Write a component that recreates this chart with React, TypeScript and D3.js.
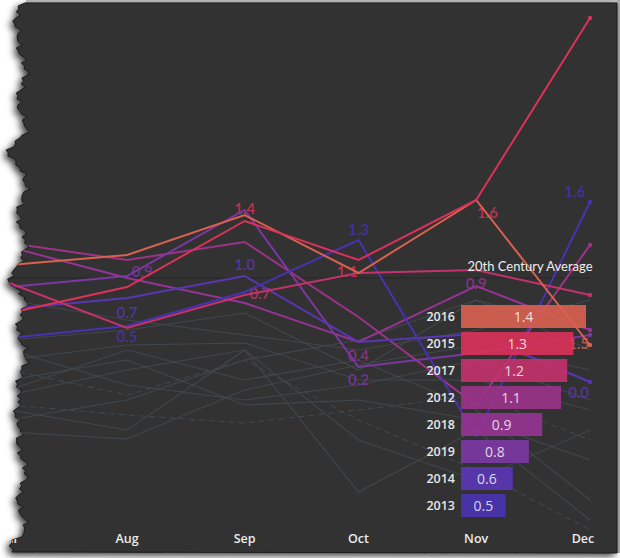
import React from 'react';
import * as d3 from 'd3';

// months shown on the x axis (Jul..Dec)
const months = ['Jul', 'Aug', 'Sep', 'Oct', 'Nov', 'Dec'];
const monthDates = months.map((m, i) => new Date(2000, 6 + i, 1));

// legend: yearly averages
const years = [2016, 2015, 2017, 2012, 2018, 2019, 2014, 2013];
const yearAverages = [1.40, 1.26, 1.19, 1.12, 0.91, 0.76, 0.58, 0.50];
const yearColors = ['#d9614f', '#dc3158', '#c4326b', '#9c3389', '#953494', '#7c37a4', '#5a36b5', '#4932b2'];

// monthly values, Jul..Dec, highlighted years
const values2016 = [0.13, 0.23, 0.63, 0.05, 0.78, -0.67];
const values2015 = [-0.35, -0.09, 0.57, 0.18, 0.78, 2.6];
const values2017 = [-0.05, -0.50, -0.17, 0.05, 0.08, -0.17];
const values2012 = [0.35, 0.18, 0.36, -0.39, -1.27, 0.33];
const values2018 = [0.31, 0.0, -0.25, -0.64, -0.08, -0.52];
const values2019 = [-0.09, 0.02, 0.68, -0.89, -0.75, -0.57];
const values2014 = [-0.31, -0.20, 0.02, -0.64, -0.56, -1.04];
const values2013 = [-0.60, -0.48, -0.14, 0.38, -1.58, 0.76];

// older years in the background
const pastYears = [
  [-0.62, -0.52, -0.35, -0.92, -0.22, -0.52],
  [-0.82, -0.67, -0.65, -1.02, -1.02, -1.32],
  [-1.27, -1.37, -1.45, -1.32, -1.17, -1.62],
  [-1.54, -1.61, -1.12, -0.87, -0.67, -0.92],
  [-1.02, -0.82, -1.27, -1.22, -1.42, -1.82],
  [-1.17, -0.92, -0.72, -2.14, -1.52, -2.42],
  [-0.72, -1.07, -1.22, -1.07, -0.82, -1.22],
  [-1.42, -1.22, -0.82, -0.62, -0.22, -0.72],
  [-0.92, -1.17, -0.82, -1.42, -1.92, -2.52],
  [-1.12, -0.72, -1.02, -0.82, -1.32, -2.22],
  [-0.22, -0.42, -0.57, -0.72, -0.52, -0.22],
  [-1.32, -1.52, -0.72, -1.62, -2.02, -1.52],
];
const dashedPast = [2, 8];

// value labels floating on the lines: month index, day shift, level, text, year
const lineLabels = [
  { m: 2, d: 0, v: 0.70, text: '1.4', year: 2015 },
  { m: 1, d: 4, v: 0.07, text: '0.9', year: 2019 },
  { m: 1, d: 0, v: -0.34, text: '0.7', year: 2014 },
  { m: 1, d: 0, v: -0.58, text: '0.5', year: 2013 },
  { m: 2, d: 0, v: 0.14, text: '1.0', year: 2014 },
  { m: 2, d: 4, v: -0.15, text: '0.7', year: 2017 },
  { m: 3, d: 0, v: 0.49, text: '1.3', year: 2013 },
  { m: 3, d: -2.5, v: 0.07, text: '1.1', year: 2015 },
  { m: 3, d: 0, v: -0.77, text: '0.4', year: 2018 },
  { m: 3, d: 0, v: -1.01, text: '0.2', year: 2019 },
  { m: 4, d: 3.5, v: 0.66, text: '1.6', year: 2015 },
  { m: 4, d: 0, v: -0.05, text: '0.9', year: 2018 },
  { m: 5, d: -3.5, v: 0.87, text: '1.6', year: 2013 },
  { m: 5, d: -3, v: -0.65, text: '1.5', year: 2016 },
  { m: 5, d: -3, v: -1.14, text: '0.0', year: 2014 },
];

const highlighted = [
  { year: 2018, values: values2018 },
  { year: 2012, values: values2012 },
  { year: 2019, values: values2019 },
  { year: 2014, values: values2014 },
  { year: 2013, values: values2013 },
  { year: 2017, values: values2017 },
  { year: 2016, values: values2016 },
  { year: 2015, values: values2015 },
];

const W = 620;
const H = 558;
const TOP = 3;
const BOTTOM = 553;
const RIGHT = 617;

// jagged left edge of the torn panel
const edgeX = (y: number) => {
  const s = Math.sin(y / 21 + 0.7);
  const spike = s > 0.75 ? -(s - 0.75) * 40 : 0;
  return 22 + 4 * Math.sin(y / 9.1) + 2.6 * Math.sin(y / 2.3 + 1.3) + 2 * Math.sin(y / 1.15 + 0.4) + spike;
};

const App = () => {
  const colorOf = (yr: number) => yearColors[years.indexOf(yr)];

  const x = d3.scaleTime()
    .domain([monthDates[0], monthDates[5]])
    .range([9.4, 590]);

  const y = d3.scaleLinear()
    .domain([-2.6, 2.6])
    .range([538, 18]);

  const line = d3.line<number>()
    .x((d, i) => x(monthDates[i]))
    .y((d) => y(d));

  const yb = d3.scaleBand<number>()
    .domain(years)
    .range([305, 517])
    .paddingInner(0.148);

  const wb = d3.scaleLinear()
    .domain([0, 1.4])
    .range([0, 125]);
  const barX = 461;

  const edgePts: [number, number][] = [];
  for (let yy = TOP; yy <= BOTTOM; yy += 3) edgePts.push([edgeX(yy), yy]);
  const panelPath =
    `M${edgePts[0][0]},${TOP} L${RIGHT},${TOP} L${RIGHT},${BOTTOM} ` +
    edgePts.slice().reverse().map((p) => `L${p[0].toFixed(1)},${p[1]}`).join(' ') + ' Z';

  const labelX = (l: { m: number; d: number }) => x(d3.timeDay.offset(monthDates[l.m], l.d));

  return (
    <svg width={W} height={H} style={{ position: 'absolute', left: 0, top: 0, background: '#ffffff' }}>
      <defs>
        <filter id="shadow" x="-5%" y="-5%" width="110%" height="110%">
          <feDropShadow dx={-3} dy={3} stdDeviation={3.5} floodColor="#000" floodOpacity={0.75} />
        </filter>
        <clipPath id="panel">
          <path d={panelPath} />
        </clipPath>
      </defs>

      <rect x={26} y={0} width={W - 26} height={TOP} fill="#bfbfbf" />
      <rect x={RIGHT} y={0} width={W - RIGHT} height={BOTTOM} fill="#a9a9a9" />
      <path d={panelPath} fill="#323232" stroke="#1c1c1c" strokeWidth={1} filter="url(#shadow)" />

      <g clipPath="url(#panel)">
        {/* 20th century average baseline */}
        <line x1={x(monthDates[0])} x2={x(monthDates[5])} y1={y(0)} y2={y(0)} stroke="#262626" strokeWidth={1.2} />

        {pastYears.map((vals, i) => (
          <path key={'p' + i} d={line(vals) || ''} fill="none" stroke="#454c53" strokeWidth={1.1}
            strokeOpacity={0.8} strokeDasharray={dashedPast.includes(i) ? '6,4' : undefined} />
        ))}

        {lineLabels.map((l, i) => (
          <text key={'l' + i} x={labelX(l)} y={y(l.v)} textAnchor="middle" dominantBaseline="central"
            fontFamily="Lato, sans-serif" fontSize={15} fontWeight={600}
            fill={colorOf(l.year)} fillOpacity={0.85}>{l.text}</text>
        ))}

        {highlighted.map((s) => (
          <g key={s.year}>
            <path d={line(s.values) || ''} fill="none" stroke={colorOf(s.year)} strokeWidth={2} />
            <circle cx={x(monthDates[5])} cy={y(s.values[5])} r={2.2} fill={colorOf(s.year)} />
          </g>
        ))}

        {months.map((m, i) => (
          <text key={m} x={i === 5 ? x(monthDates[i]) - 7 : x(monthDates[i])} y={538}
            textAnchor="middle" dominantBaseline="central"
            fontFamily="'Open Sans', sans-serif" fontSize={12.5} fontWeight={600} fill="#ececec">{m}</text>
        ))}
      </g>

      <text x={530} y={266} textAnchor="middle" dominantBaseline="central"
        fontFamily="Lato, sans-serif" fontSize={13} fill="#eeeeee">20th Century Average</text>

      {years.map((yr, i) => (
        <g key={'b' + yr}>
          <rect x={barX} y={yb(yr)} width={wb(yearAverages[i])} height={yb.bandwidth()}
            fill={yearColors[i]} fillOpacity={0.9} />
          <text x={barX - 6} y={(yb(yr) || 0) + yb.bandwidth() / 2} textAnchor="end" dominantBaseline="central"
            fontFamily="'Open Sans', sans-serif" fontSize={12.5} fontWeight={600} fill="#e8e8e8">{yr}</text>
          <text x={barX + wb(yearAverages[i]) / 2} y={(yb(yr) || 0) + yb.bandwidth() / 2} textAnchor="middle"
            dominantBaseline="central" fontFamily="'Open Sans', sans-serif" fontSize={14}
            fill="#ffffff" fillOpacity={0.8}>{yearAverages[i].toFixed(1)}</text>
        </g>
      ))}
    </svg>
  );
};

export default App;
